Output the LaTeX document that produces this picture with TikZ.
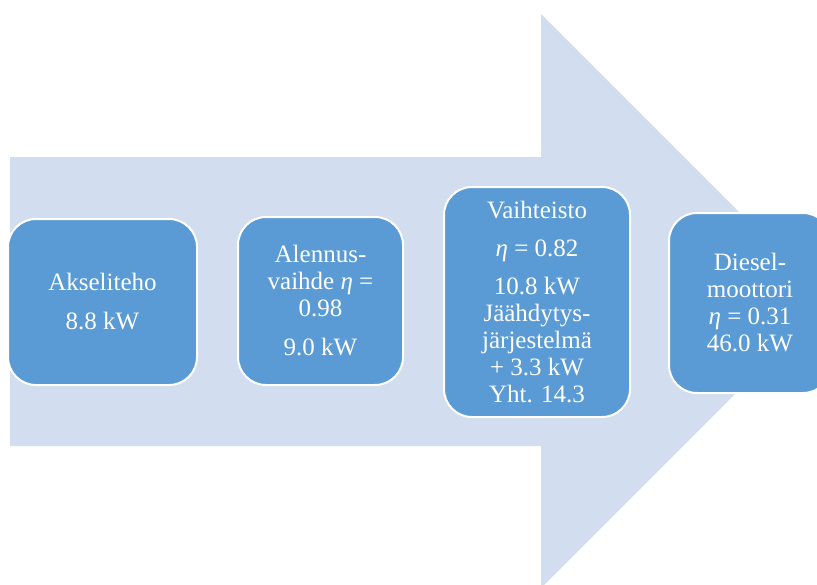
\documentclass[tikz,border=0pt]{standalone}
\usepackage{fontspec}
\setmainfont{LiberationSerif}[Extension=.ttf, UprightFont=*-Regular,
  ItalicFont=*-Italic, BoldFont=*-Bold]
\usepackage{xcolor}
\usepackage{tikz}
\definecolor{flowfill}{HTML}{D2DEEF}
\definecolor{stagefill}{HTML}{5B9BD5}
\tikzset{
  flow/.style={fill=flowfill, draw=none},
  stage/.style={rectangle, rounded corners=28pt, fill=stagefill, draw=white,
    line width=2pt, text=white, align=center, inner sep=0pt,
    font=\fontsize{25}{27}\selectfont}
}
\newcommand{\eff}{{\itshape η}}

\begin{document}
\begin{tikzpicture}[x=1pt,y=-1pt]
  \clip (0,0) rectangle (817,584);

  % power flow arrow
  \coordinate (tip) at (828,301);
  \fill[flow] (10,157) -- (541,157) -- (541,14) -- (tip)
    -- (541,588) -- (541,446) -- (10,446) -- cycle;

  \node[stage, minimum width=189pt, minimum height=166pt] (akseli) at (102.5,302)
    {Akseliteho\\[12pt]8.8 kW};
  \node[stage, minimum width=165pt, minimum height=168pt] (alennus) at (320.5,301)
    {Alennus-\\vaihde \eff{} =\\0.98\\[12pt]9.0 kW};
  \node[stage, minimum width=186pt, minimum height=230pt] (vaihteisto) at (537,302)
    {Vaihteisto\\[11pt]\eff{} = 0.82\\[11pt]10.8 kW\\Jäähdytys-\\järjestelmä\\+ 3.3 kW\\Yht. 14.3};
  \node[stage, minimum width=162pt, minimum height=180pt] (diesel) at (750,303)
    {Diesel-\\moottori\\\eff{} = 0.31\\46.0 kW};
\end{tikzpicture}
\end{document}
